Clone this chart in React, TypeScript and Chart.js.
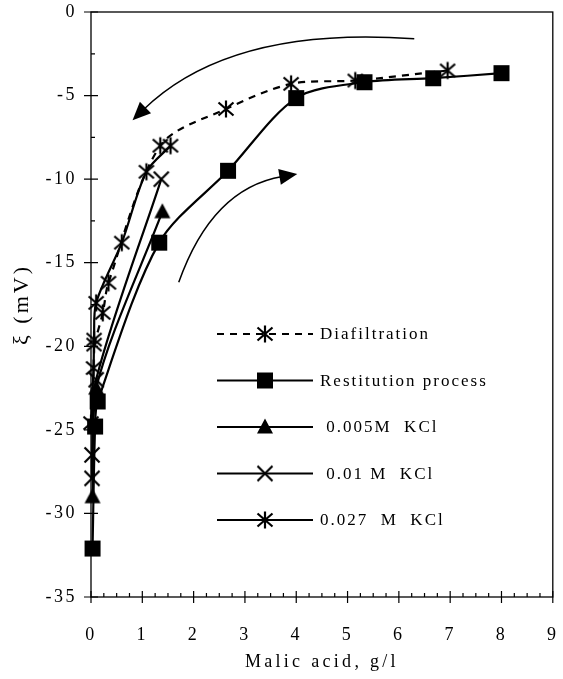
import React, { useEffect, useRef } from 'react';
import { Chart, registerables } from 'chart.js';

Chart.register(...registerables);

const W = 563;
const H = 679;
const FONT = "'Liberation Serif', 'Times New Roman', serif";

// ---- data ----
const seriesLabels = ['Diafiltration', 'Restitution process', ' 0.005M  KCl', ' 0.01 M  KCl', '0.027  M  KCl'];

const diafX = [6.95, 5.15, 3.9, 2.63, 1.35, 0.34, 0.23, 0.06];
const diafY = [-3.5, -4.1, -4.3, -5.8, -8.0, -16.2, -18.0, -19.9];

const restX = [0.03, 0.08, 0.13, 1.33, 2.67, 4.0, 5.33, 6.67, 8.0];
const restY = [-32.1, -24.8, -23.3, -13.8, -9.5, -5.15, -4.2, -3.96, -3.66];

const k005X = [0.03, 0.1, 1.39];
const k005Y = [-29.0, -22.5, -11.95];

const k01X = [0.02, 0.02, 0.1, 1.37];
const k01Y = [-27.9, -26.5, -22.0, -10.0];

const k027X = [0.0, 0.05, 0.06, 0.1, 0.6, 1.08, 1.55];
const k027Y = [-24.6, -21.3, -19.6, -17.4, -13.8, -9.56, -8.0];

const xTickValues = [0, 1, 2, 3, 4, 5, 6, 7, 8, 9];
const yTickValues = [0, -5, -10, -15, -20, -25, -30, -35];
const xMinorStep = 0.25;
const yMinorStep = 2.5;
const xTitle = 'Malic acid, g/l';
const yTitle = 'ξ (mV)';

// annotation arrows in data coordinates: start, control, tip
const arrowTop = { from: [6.3, -1.6], ctrl: [2.71, -0.8], to: [0.81, -6.47] };
const arrowBottom = { from: [1.71, -16.17], ctrl: [2.36, -10.54], to: [4.02, -9.69] };

const pts = (xs: number[], ys: number[]) => xs.map((x, i) => ({ x, y: ys[i] }));

function makeMarker(kind: string): HTMLCanvasElement {
  const c = document.createElement('canvas');
  const s = 20;
  c.width = s;
  c.height = s;
  const g = c.getContext('2d')!;
  g.fillStyle = '#000';
  g.strokeStyle = '#000';
  g.lineWidth = 2.2;
  const m = s / 2;
  if (kind === 'square') {
    g.fillRect(m - 8, m - 8, 16, 16);
  } else if (kind === 'triangle') {
    g.beginPath();
    g.moveTo(m, m - 8.5);
    g.lineTo(m + 8, m + 6.5);
    g.lineTo(m - 8, m + 6.5);
    g.closePath();
    g.fill();
  } else if (kind === 'x') {
    g.beginPath();
    g.moveTo(m - 7.5, m - 7.5);
    g.lineTo(m + 7.5, m + 7.5);
    g.moveTo(m + 7.5, m - 7.5);
    g.lineTo(m - 7.5, m + 7.5);
    g.stroke();
  } else if (kind === 'star') {
    g.beginPath();
    g.moveTo(m - 7.5, m - 6.5);
    g.lineTo(m + 7.5, m + 6.5);
    g.moveTo(m + 7.5, m - 6.5);
    g.lineTo(m - 7.5, m + 6.5);
    g.moveTo(m, m - 8.5);
    g.lineTo(m, m + 8.5);
    g.stroke();
  }
  return c;
}

export default function App() {
  const ref = useRef<HTMLCanvasElement>(null);

  useEffect(() => {
    const canvas = ref.current!;
    const mk = {
      square: makeMarker('square'),
      triangle: makeMarker('triangle'),
      x: makeMarker('x'),
      star: makeMarker('star'),
    };

    const lineW = 2.2;
    const datasets: any[] = [
      { label: seriesLabels[0], data: pts(diafX, diafY), borderDash: [7, 6], pointStyle: mk.star },
      { label: seriesLabels[1], data: pts(restX, restY), pointStyle: mk.square },
      { label: seriesLabels[2], data: pts(k005X, k005Y), pointStyle: mk.triangle },
      { label: seriesLabels[3], data: pts(k01X, k01Y), pointStyle: mk.x },
      { label: seriesLabels[4], data: pts(k027X, k027Y), pointStyle: mk.star },
    ].map((d) => ({
      ...d,
      borderColor: '#000',
      backgroundColor: '#000',
      borderWidth: lineW,
      tension: 0.3,
      clip: false,
      pointRadius: 8,
    }));

    const axesPlugin = {
      id: 'axesFrame',
      beforeDraw(chart: any) {
        chart.ctx.letterSpacing = '2.5px';
      },
      beforeDatasetsDraw(chart: any) {
        const { ctx, chartArea: a, scales } = chart;
        const xs = scales.x;
        const ys = scales.y;
        ctx.save();
        ctx.strokeStyle = '#000';
        ctx.lineWidth = 1.3;
        ctx.strokeRect(a.left, a.top, a.right - a.left, a.bottom - a.top);
        ctx.lineWidth = 1.2;
        ctx.beginPath();
        for (const v of xTickValues) {
          const p = xs.getPixelForValue(v);
          ctx.moveTo(p, a.bottom - 6);
          ctx.lineTo(p, a.bottom + 6);
        }
        for (let v = xs.min; v <= xs.max + 1e-9; v += xMinorStep) {
          const p = xs.getPixelForValue(v);
          ctx.moveTo(p, a.bottom);
          ctx.lineTo(p, a.bottom - 4);
        }
        for (const v of yTickValues) {
          const p = ys.getPixelForValue(v);
          ctx.moveTo(a.left - 7, p);
          ctx.lineTo(a.left + 7, p);
        }
        for (let v = ys.min; v <= ys.max + 1e-9; v += yMinorStep) {
          const p = ys.getPixelForValue(v);
          ctx.moveTo(a.left, p);
          ctx.lineTo(a.left + 4, p);
        }
        ctx.stroke();
        ctx.restore();
      },
      afterDatasetsDraw(chart: any) {
        const { ctx, scales, chartArea: a } = chart;
        const xs = scales.x;
        const ys = scales.y;
        const px = (p: number[]) => [xs.getPixelForValue(p[0]), ys.getPixelForValue(p[1])];
        ctx.save();
        ctx.strokeStyle = '#000';
        ctx.fillStyle = '#000';
        ctx.lineWidth = 1.5;
        for (const arr of [arrowTop, arrowBottom]) {
          const [x0, y0] = px(arr.from);
          const [cx, cy] = px(arr.ctrl);
          const [x1, y1] = px(arr.to);
          const ang = Math.atan2(y1 - cy, x1 - cx);
          const len = 18;
          const hw = 8;
          const bx = x1 - len * Math.cos(ang);
          const by = y1 - len * Math.sin(ang);
          ctx.beginPath();
          ctx.moveTo(x0, y0);
          ctx.quadraticCurveTo(cx, cy, bx + 3 * Math.cos(ang), by + 3 * Math.sin(ang));
          ctx.stroke();
          ctx.beginPath();
          ctx.moveTo(x1, y1);
          ctx.lineTo(bx + hw * Math.sin(ang), by - hw * Math.cos(ang));
          ctx.lineTo(bx - hw * Math.sin(ang), by + hw * Math.cos(ang));
          ctx.closePath();
          ctx.fill();
        }

        // legend
        const markers = [mk.star, mk.square, mk.triangle, mk.x, mk.star];
        const lx0 = 217;
        const lx1 = 313;
        const lm = 265;
        const tx = 320;
        const ly0 = 334;
        const dy = 46.5;
        ctx.font = `17px ${FONT}`;
        ctx.letterSpacing = '2px';
        ctx.textBaseline = 'middle';
        ctx.textAlign = 'left';
        seriesLabels.forEach((lab, i) => {
          const y = ly0 + i * dy;
          ctx.lineWidth = lineW;
          ctx.setLineDash(i === 0 ? [7, 6] : []);
          ctx.beginPath();
          ctx.moveTo(lx0, y);
          ctx.lineTo(lx1, y);
          ctx.stroke();
          ctx.setLineDash([]);
          const m = markers[i];
          ctx.drawImage(m, lm - m.width / 2, y - m.height / 2);
          ctx.fillText(lab, tx, y + 1);
        });

        // axis titles
        ctx.letterSpacing = '3.3px';
        ctx.font = `18px ${FONT}`;
        ctx.textAlign = 'center';
        ctx.textBaseline = 'middle';
        ctx.fillText(xTitle, (a.left + a.right) / 2, 662);
        ctx.save();
        ctx.translate(22, (a.top + a.bottom) / 2);
        ctx.rotate(-Math.PI / 2);
        ctx.font = `22px ${FONT}`;
        ctx.letterSpacing = '3px';
        ctx.fillText(yTitle, 0, 0);
        ctx.restore();
        ctx.restore();
      },
    };

    const tickFont = { family: FONT, size: 18 };

    const chart = new Chart(canvas, {
      type: 'line',
      data: { datasets },
      options: {
        animation: false,
        responsive: false,
        devicePixelRatio: 1,
        layout: { padding: { left: 0, top: 12, right: 8, bottom: 0 } },
        plugins: { legend: { display: false }, tooltip: { enabled: false } },
        scales: {
          x: {
            type: 'linear',
            min: 0,
            max: 9,
            grid: { display: false, drawTicks: false },
            border: { display: false },
            afterBuildTicks: (s: any) => {
              s.ticks = xTickValues.map((v) => ({ value: v }));
            },
            ticks: { color: '#000', font: tickFont, padding: 27, maxRotation: 0, autoSkip: false },
            title: { display: false },
            afterFit: (s: any) => {
              s.height = 82;
              s.paddingLeft = 0;
              s.paddingRight = 0;
            },
          },
          y: {
            type: 'linear',
            min: -35,
            max: 0,
            grid: { display: false, drawTicks: false },
            border: { display: false },
            afterBuildTicks: (s: any) => {
              s.ticks = yTickValues.map((v) => ({ value: v }));
            },
            ticks: { color: '#000', font: tickFont, padding: 14, autoSkip: false },
            title: { display: false },
            afterFit: (s: any) => {
              s.width = 91;
              s.paddingTop = 0;
              s.paddingBottom = 0;
            },
          },
        },
      } as any,
      plugins: [axesPlugin],
    });

    return () => chart.destroy();
  }, []);

  return (
    <div style={{ position: 'fixed', left: 0, top: 0, width: W, height: H, background: '#fff' }}>
      <canvas ref={ref} width={W} height={H} style={{ display: 'block', width: W, height: H }} />
    </div>
  );
}
